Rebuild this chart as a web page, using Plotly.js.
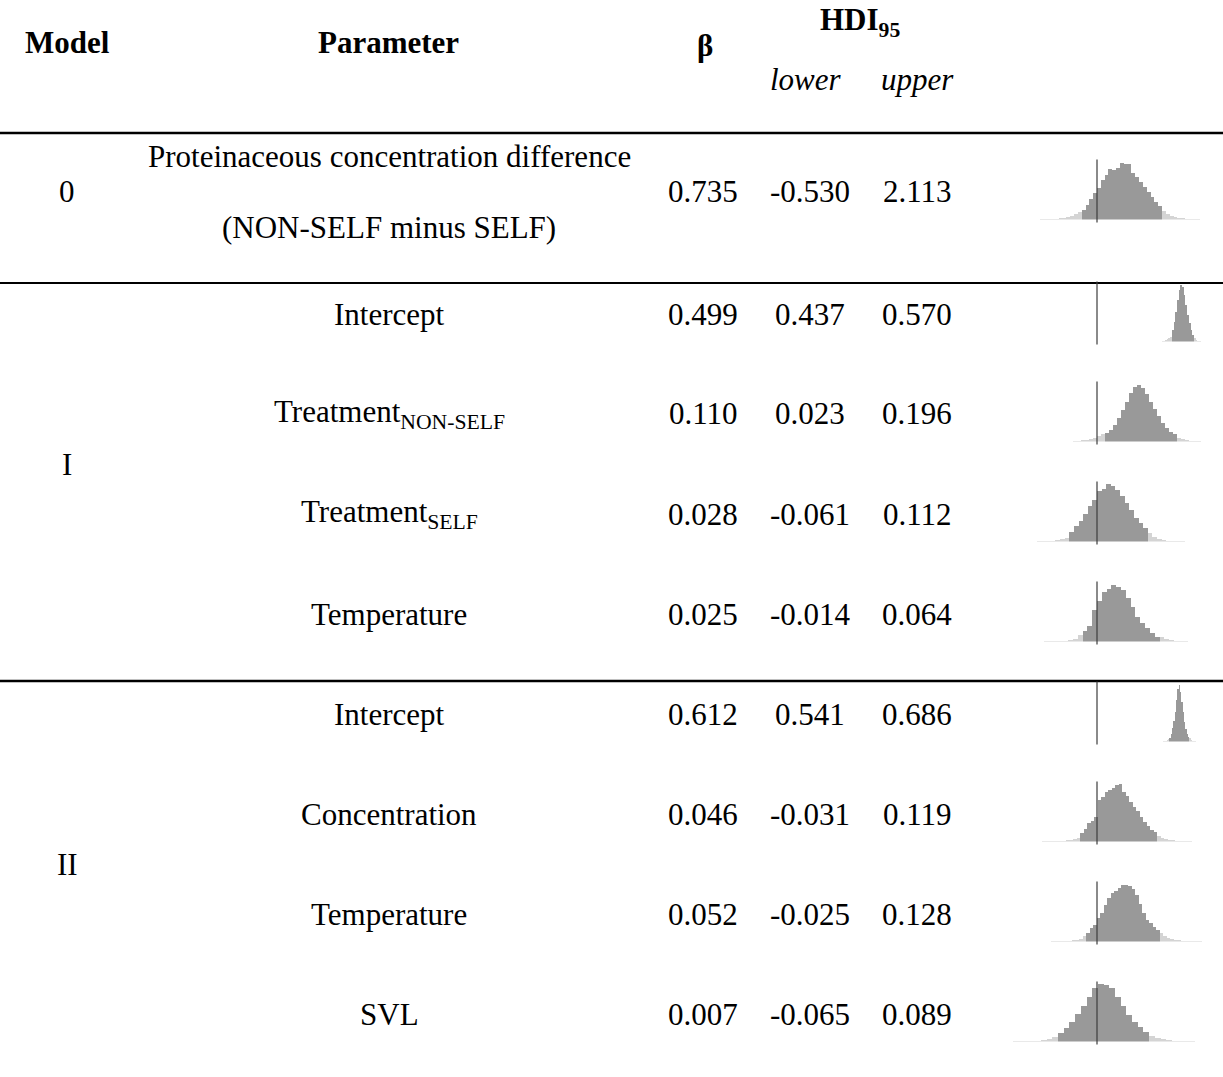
<!DOCTYPE html>
<html>
<head>
<meta charset="utf-8">
<script src="https://cdn.plot.ly/plotly-3.0.1.min.js"></script>
<style>html,body{margin:0;padding:0;background:#fff;}#chart{width:1223px;height:1077px;}</style>
</head>
<body>
<div id="chart"></div>
<script>
// ---------- table data ----------
const models = ['0', 'I', 'II'];
const modelRows = [[0], [1, 2, 3, 4], [5, 6, 7, 8]];
const parameters = [
  ['Proteinaceous concentration difference', '(NON-SELF minus SELF)'],
  ['Intercept'],
  ['Treatment<sub>NON-SELF</sub>'],
  ['Treatment<sub>SELF</sub>'],
  ['Temperature'],
  ['Intercept'],
  ['Concentration'],
  ['Temperature'],
  ['SVL']
];
const beta     = [0.735, 0.499, 0.110, 0.028, 0.025, 0.612, 0.046, 0.052, 0.007];
const hdiLower = [-0.530, 0.437, 0.023, -0.061, -0.014, 0.541, -0.031, -0.025, -0.065];
const hdiUpper = [2.113, 0.570, 0.196, 0.112, 0.064, 0.686, 0.119, 0.128, 0.089];

// ---------- posterior histograms (bin left edge, bin width, bar heights) ----------
const binStart = [-1.875, 0.38, -0.06, -0.13, -0.055, 0.49, -0.111, -0.092, -0.1425];
const binWidth = [0.125, 0.01, 0.01, 0.01, 0.005, 0.01, 0.007, 0.007, 0.0096];
const histModel0Diff = [1,1,2,2,3,4,6,9,12,16,22,30,45,62,80,95,118,135,152,150,155,171,167,168,140,127,113,98,82,67,54,42,25,17,12,9,6,4,3,2,1,1];
const histModelIIntercept = [2,3,5,7,10,15,35,60,90,125,155,169,165,140,110,80,55,35,20,12,6,3,1];
const histModelITreatNonSelf = [2,3,4,5,8,12,17,22,27,35,50,70,95,120,145,165,169,160,142,120,97,77,57,42,30,22,12,8,5,3,2,1];
const histModelITreatSelf = [1,2,2,3,5,7,12,29,47,62,82,107,124,152,157,172,167,155,137,117,94,72,57,42,25,15,9,5,3,2,1,1];
const histModelITemperature = [1,1,2,2,3,4,7,20,32,47,95,123,150,157,170,165,155,130,105,75,55,40,25,15,13,7,4,2,2,1];
const histModelIIIntercept = [1,2,3,5,8,12,22,40,62,90,125,158,171,150,120,88,60,38,22,14,10,5,3,2,1];
const histModelIIConcentration = [1,1,1,1,2,2,3,4,5,7,12,25,38,55,63,75,125,135,148,155,162,170,173,150,138,120,105,92,75,60,48,35,28,18,12,9,6,4,3,2,2,1,1];
const histModelIITemperature = [1,1,1,2,2,3,4,5,8,18,25,40,50,70,85,110,130,147,152,162,170,170,166,158,140,112,85,66,56,45,35,25,18,11,8,5,4,3,2,1,1,1,1];
const histModelIISVL = [1,1,2,2,3,5,8,15,27,42,60,82,108,135,160,174,170,162,135,108,80,60,43,30,18,10,7,4,3,2,1,1];
const histograms = [histModel0Diff, histModelIIntercept, histModelITreatNonSelf, histModelITreatSelf,
  histModelITemperature, histModelIIIntercept, histModelIIConcentration, histModelIITemperature, histModelIISVL];

// ---------- layout (pixel positions) ----------
const W = 1223, H = 1077;
const px = x => x / W;
const py = y => 1 - y / H;
const FONT = 'Liberation Serif, Times New Roman, serif';
const FS = 31;
const rowY = [192, 314, 414, 514, 614, 714, 814, 914, 1014];
const paramLineY = [[157, 227]];
const colModelX = 67, colParamX = 389, colBetaX = 703, colLowerX = 810, colUpperX = 917;
const histScale = [30.6, 170, 399, 462, 962, 134, 500, 500, 593]; // px per unit
const histZeroX = 1097, histLeft = 1005, histRight = 1220;
const histPeakPx = 58.3, histYMax = 175;
const DARK = '#999999', LIGHT = '#d4d4d4';

const annotations = [];
function txt(text, x, y) {
  annotations.push({
    text: text, x: px(x), y: py(y), xref: 'paper', yref: 'paper',
    xanchor: 'center', yanchor: 'middle', showarrow: false,
    font: {family: FONT, size: FS, color: '#000'}
  });
}

// header
txt('<b>Model</b>', colModelX, 43);
txt('<b>Parameter</b>', 388, 43);
txt('<b>β</b>', 705, 45);
txt('<b>HDI<sub>95</sub></b>', 860, 22);
txt('<i>lower</i>', colLowerX - 4, 80);
txt('<i>upper</i>', colUpperX, 80);

// body
models.forEach((m, mi) => {
  const rows = modelRows[mi];
  const yc = (rowY[rows[0]] + rowY[rows[rows.length - 1]]) / 2;
  txt(m, colModelX, yc);
});
parameters.forEach((lines, i) => {
  if (lines.length === 1) txt(lines[0], colParamX, rowY[i]);
  else lines.forEach((l, k) => txt(l, colParamX, paramLineY[i][k]));
  txt(beta[i].toFixed(3), colBetaX, rowY[i]);
  txt(hdiLower[i].toFixed(3), colLowerX, rowY[i]);
  txt(hdiUpper[i].toFixed(3), colUpperX, rowY[i]);
});

// rules
const shapes = [];
[[133, 2.5], [283, 2], [681, 2.5]].forEach(([y, w]) => {
  shapes.push({type: 'line', xref: 'paper', yref: 'paper', x0: 0, x1: 1, y0: py(y), y1: py(y),
    line: {color: '#000', width: w}});
});

// histograms
const data = [];
const layout = {
  width: W, height: H, margin: {l: 0, r: 0, t: 0, b: 0},
  paper_bgcolor: '#fff', plot_bgcolor: 'rgba(0,0,0,0)',
  showlegend: false, bargap: 0, barmode: 'overlay',
  annotations: annotations, shapes: shapes
};
histograms.forEach((hts, i) => {
  const n = i + 1;
  const xa = 'x' + n, ya = 'y' + n;
  const w = binWidth[i];
  const centers = hts.map((_, k) => binStart[i] + (k + 0.5) * w);
  const colors = centers.map(c => (c >= hdiLower[i] && c <= hdiUpper[i]) ? DARK : LIGHT);
  data.push({
    type: 'bar', x: centers, y: hts, width: w, xaxis: xa, yaxis: ya,
    marker: {color: colors, line: {width: 0}}, hoverinfo: 'skip'
  });
  const base = rowY[i] + 27.5;
  const s = histScale[i];
  const axKey = n === 1 ? '' : String(n);
  layout['xaxis' + axKey] = {
    domain: [px(histLeft), px(histRight)],
    range: [(histLeft - histZeroX) / s, (histRight - histZeroX) / s],
    visible: false, fixedrange: true, anchor: ya
  };
  layout['yaxis' + axKey] = {
    domain: [py(base), py(base - histPeakPx)],
    range: [0, histYMax], visible: false, fixedrange: true, anchor: xa
  };
  shapes.push({type: 'line', xref: xa, yref: 'paper', x0: 0, x1: 0,
    y0: py(base + 3), y1: py(base - 60), line: {color: '#3c3c3c', width: 1.2}});
});

Plotly.newPlot('chart', data, layout, {displayModeBar: false, staticPlot: true});
</script>
</body>
</html>
